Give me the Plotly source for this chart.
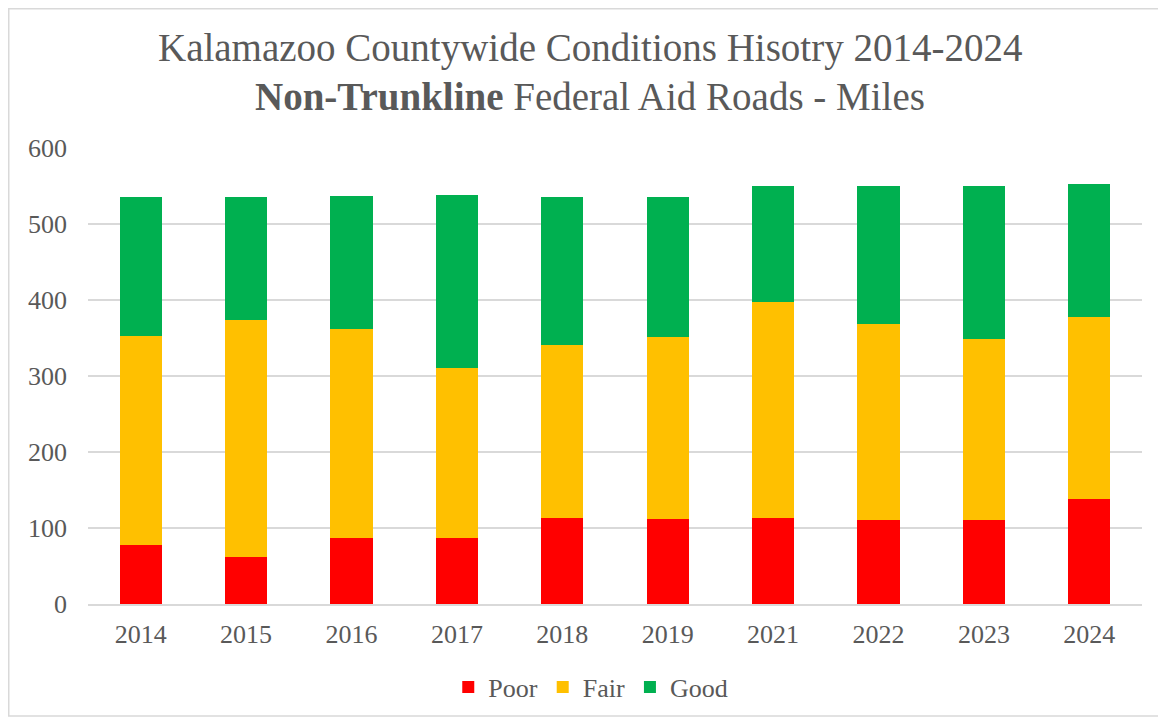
import plotly.graph_objects as go

years = ["2014", "2015", "2016", "2017", "2018", "2019", "2021", "2022", "2023", "2024"]
poor = [78, 62, 87, 87, 113, 112, 113, 111, 111, 138]
fair = [275, 312, 275, 224, 228, 239, 285, 258, 238, 240]
good = [183, 161, 175, 227, 195, 185, 152, 181, 201, 174]

series = [("Poor", poor, "#FF0000"), ("Fair", fair, "#FFC000"), ("Good", good, "#00B050")]

FONT = "Liberation Serif"
GRAY = "#595959"

# page has an 8px body margin; work in figure coordinates
OX, OY = 8, 8
W, H = 1166 - OX, 719 - OY
L = 88 - OX
T = 148 - OY
R = W - (1142 - OX)
B = H - (604 - OY)
pw, ph = W - L - R, H - T - B


def py(page_y):
    return 1 - ((page_y - OY) - T) / ph


def px(page_x):
    return ((page_x - OX) - L) / pw


fig = go.Figure()
for name, vals, col in series:
    fig.add_trace(go.Bar(x=years, y=vals, name=name, marker=dict(color=col, line=dict(width=0))))

fig.update_layout(
    width=W, height=H,
    barmode="stack", bargap=0.6,
    paper_bgcolor="white", plot_bgcolor="white",
    margin=dict(l=L, r=R, t=T, b=B, autoexpand=False),
    font=dict(family=FONT, color=GRAY, size=26),
    xaxis=dict(showgrid=False, showline=True, linecolor="#d9d9d9", linewidth=2,
               ticks="", ticklabelstandoff=6, tickfont=dict(size=26, color=GRAY)),
    yaxis=dict(range=[0, 600], dtick=100, showgrid=True, gridcolor="#d9d9d9", gridwidth=1.5,
               zeroline=False, showline=False, ticks="", ticklabelstandoff=20,
               tickfont=dict(size=26, color=GRAY)),
    legend=dict(orientation="h", x=0.477, xanchor="center", y=py(687), yanchor="middle",
                font=dict(size=26, color=GRAY), traceorder="normal", itemwidth=30),
    showlegend=True,
)

fig.add_annotation(text="Kalamazoo Countywide Conditions Hisotry 2014-2024",
                   xref="paper", yref="paper", x=px(590), y=py(48), xanchor="center", yanchor="middle",
                   showarrow=False, font=dict(family=FONT, size=39, color=GRAY))
fig.add_annotation(text="<b>Non-Trunkline</b> Federal Aid Roads - Miles",
                   xref="paper", yref="paper", x=px(590), y=py(96), xanchor="center", yanchor="middle",
                   showarrow=False, font=dict(family=FONT, size=39, color=GRAY))

fig.add_shape(type="rect", xref="paper", yref="paper",
              x0=px(OX + 0.75), x1=px(1162),
              y0=py(716), y1=py(OY + 0.75),
              line=dict(color="#d9d9d9", width=1.5), fillcolor="rgba(0,0,0,0)", layer="below")

fig.write_html("out.html")
